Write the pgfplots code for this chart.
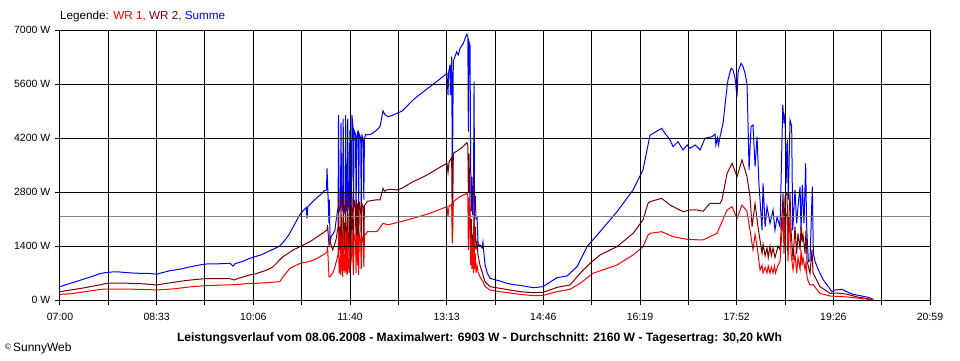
\documentclass[border=0pt]{standalone}
\usepackage{pgfplots}
\pgfplotsset{compat=1.18}
\usepackage{pgfplotstable}
\usepackage{fontspec}
\setmainfont{Liberation Sans}
\definecolor{wrone}{RGB}{255,0,0}
\definecolor{wrtwo}{RGB}{128,0,0}
\definecolor{summe}{RGB}{0,0,255}
\definecolor{avgline}{RGB}{128,128,128}

% minutes after 07:00, watts
\pgfplotstableread{
m w
0 345
5 390
10 430
18 500
25 560
32 620
38 680
43 708
50 726
56 730
62 715
70 700
78 690
86 690
93.5 666
96 690
106 760
116 800
123.4 848
130 885
139.8 933
146 935
154 940
164 951
167 880
169 945
176 1000
183 1080
188 1123
194 1170
200 1250
206 1320
212 1400
216 1520
221 1700
226 1950
231 2200
234 2300
237.5 2400
238.2 2117
239 2420
244 2560
248 2660
251 2723
255 2834
257 2850
257.5 3415
258.3 2830
259.4 1997
259.8 2600
260.4 1480
261.5 1650
263 1700
265 1800
266.5 2100
267.5 2300
268.2 2400
268.6 4797
269.2 2300
270.5 2400
271.0 4600
271.6 2500
272.6 2300
273.1 4700
273.7 2200
275.0 2400
275.5 4797
276.1 2300
277.0 2600
277.5 4700
278.1 2500
279.0 2300
279.5 4400
280.1 2400
281.0 2600
281.5 4797
282.5 4500
283.0 2300
283.6 4400
285.0 4300
285.5 2200
286.1 4200
287.5 4400
288.0 2400
288.6 4300
290.0 4200
290.5 2300
291.1 4300
292.5 4100
293.0 2600
293.6 4200
295.0 4300
296.4 4280
300 4300
305.7 4408
308.6 4494
311.5 4909
313.5 4800
316.3 4753
320 4780
325 4841
330 4900
340.4 5186
348 5350
356.8 5531
365 5700
373.2 5878
374.2 5316
374.8 5900
376.1 6094
376.6 5316
377.7 6309
378.4 3000
379.3 6200
380.9 6309
382.5 6438
384.1 6352
385.8 6525
389 6655
391.3 6828
392.3 6889
393.3 6828
393.8 4365
394.4 6698
395.4 6600
396.0 3500
396.6 2300
397.3 3200
398.0 2200
398.8 3000
399.3 5661
399.8 2400
400.5 2700
401.2 2100
402.2 2126
403.1 1512
404.0 1400
405 1426
407 1350
407.9 1500
408.5 1300
409.9 908
412 700
414.7 563
420 520
424.3 493
430 440
436.9 400
443.6 380
456.2 320
465.8 345
479.3 579
488.9 622
498.6 864
508.2 1383
520.8 1771
537.2 2290
552.6 2852
562.2 3371
566.1 3890
569 4278
572 4321
580.2 4451
583.4 4321
588.3 4149
591.2 3975
596 4105
600.8 3890
604.7 4020
607.6 3933
612.4 4020
617.2 3890
622 4193
628.8 4235
631.7 4300
632.5 4020
634 4200
635 4020
636.5 4235
639.4 4581
643.3 5531
644.2 5705
647.1 6008
649 5964
651 5748
652.9 5272
653.9 5920
656.8 6137
658.7 6050
660.6 5880
662.5 5618
663.5 4581
664.5 3371
666.4 4494
668.3 4538
670.3 3457
672.2 4235
674 3025
677 1815
678 3025
680 1900
681.8 2420
684.7 1988
687.6 2334
689.5 1815
691.5 2150
694.4 1900
697 5056
698.2 4581
699.2 4841
700.2 3025
701.4 4149
702.3 2600
704 4668
705.6 4500
706.6 1815
708.8 2852
710.4 1988
712 2500
713.7 2938
714.6 1800
715.9 2982
717.5 1988
719.1 3544
720 1900
721.7 994
723.3 1037
725.5 2938
726.5 1200
728.2 994
731.4 778
736.2 519
741 345
744.3 216
747.4 259
753.9 277
758.7 216
763.5 156
771.5 112
779.5 69
784.3 18
}\summetable

\pgfplotstableread{
m w
0 216
10 260
20 300
30 350
40 400
43 423
50 440
60 440
70 430
80 420
93.5 389
100 420
110 460
120 500
130 530
139.8 553
150 553
164 553
168 520
172 560
183 650
188 674
199.6 778
205 850
215 1123
225 1300
231.5 1383
241 1512
250.7 1685
257.5 1815
258 1950
259.4 1426
260.4 1500
261.5 1420
263 1300
265 1450
266.5 1600
267.5 1800
268.2 1900
268.6 2700
269.2 1300
270.0 1900
270.5 1200
271.0 2600
271.6 1500
272.6 1100
273.1 2750
273.7 1300
274.4 2000
275.0 1200
275.5 2700
276.1 1400
277.0 1100
277.5 2700
278.1 1500
279.0 1200
279.5 2500
280.1 1300
281.0 1800
281.5 2766
282.5 1600
283.0 1100
283.6 2600
285.0 2400
285.5 1200
286.1 2600
287.0 1500
287.5 2500
288.0 1150
288.6 2550
290.0 2300
290.5 1300
291.1 2500
292.5 2400
293.0 1400
293.6 2450
295.0 2500
296.4 2560
305.7 2600
308.6 2593
311.5 2895
313 2820
316.3 2870
320 2870
325 2852
330 2900
340.4 3068
348 3160
356.8 3285
365 3420
373.2 3544
374.2 3300
375.2 3580
376.1 3620
377.7 3700
378.4 1478
379.3 3804
384 3880
388.7 3975
391.3 4050
392.5 4079
393.3 4000
393.8 2800
394.4 3800
395.4 2400
396.0 1300
396.6 2100
397.3 1100
398.0 1700
398.8 1000
399.3 3285
399.8 1500
400.5 1900
401.2 1300
402.2 1500
403.1 1167
405 900
407 734
408.5 600
409.9 475
414.7 345
424.3 303
443.6 216
456.2 190
465.8 200
479.3 328
491.8 389
501.5 692
511.1 951
520.8 1167
537.2 1383
552.6 1729
562.2 2074
567.1 2507
569 2550
580.2 2636
588.3 2463
600.8 2290
607.6 2334
614.3 2334
620.1 2300
626.9 2507
636.5 2507
638.4 2600
643.3 3285
648.1 3544
652.9 3198
657.7 3630
662.5 3200
665.4 2679
667.4 1900
670.3 2500
673.1 1900
677 1210
678 1450
680 1150
681.8 1350
683 1100
684.7 1400
686 1150
687.6 1350
689.5 1100
691.5 1300
692.4 1400
694.4 1300
697.3 2766
698.2 1600
699.2 2700
701.1 2766
702 1600
704 2766
705 1800
706.9 1037
708.8 1900
710.4 1200
711.7 1729
713.7 1300
714.6 1900
715.6 1500
716.5 1700
718.5 1200
719.4 1800
720.4 1000
721.4 900
723.3 692
725.2 1300
726.2 700
730 500
732.9 345
742.6 173
750 180
759 150
768.6 80
784 10
}\wrtwotable

\pgfplotstableread{
m w
0 147
10 160
20 200
30 240
43 285
60 285
80 275
93.5 259
110 290
125 340
139.8 372
160 390
170 400
183 430
188 432
200 450
212 475
215 600
221.8 822
231.5 951
241 1000
247.9 1080
255.6 1200
257.5 1253
258 1400
259.4 605
260.4 600
261.5 650
263 700
265 850
266.5 1000
267.5 1100
268.2 1200
268.6 1800
269.2 700
270.0 1100
270.5 650
271.0 1700
271.6 900
272.6 600
273.1 1815
273.7 750
274.4 1200
275.0 700
275.5 1750
276.1 800
277.0 650
277.5 1800
278.1 900
279.0 700
279.5 1600
280.1 800
281.0 1100
281.5 1800
282.5 1000
283.0 650
283.6 1700
285.0 1500
285.5 700
286.1 1700
287.0 900
287.5 1650
288.0 650
288.6 1700
290.0 1500
290.5 800
291.1 1650
292.5 1500
293.0 850
293.6 1700
295.0 1700
296.4 1771
305.7 1771
311.5 1988
316.3 1950
325 2005
340.4 2117
356.8 2247
373.2 2420
374.2 2150
375.2 2440
377.7 2480
378.4 1469
379.3 2550
385.8 2680
392.5 2766
393.3 2700
393.8 1300
394.4 2650
395.4 1800
396 900
396.6 1600
397.3 800
398 1400
398.8 700
399.3 2100
399.8 800
400.5 1200
401.2 700
402.2 900
403.1 734
405 600
407.9 475
409.9 350
414.7 259
424.3 216
443.6 147
456.2 112
465.8 120
479.3 216
491.8 276
501.5 432
514 692
537.2 908
552.6 1167
562.2 1383
567.1 1685
569 1729
580.2 1771
591.2 1642
604.7 1573
620.1 1556
633.6 1729
643.3 2334
648.1 2420
652.9 2117
657.7 2463
662.5 2300
665.4 1815
668.3 1297
670.3 1700
672.2 1400
675.1 778
677 900
678 700
680 850
681.8 700
683 880
684.7 700
686 850
687.6 700
689 880
690 700
692.4 900
694.4 1000
697.3 2247
698.2 1200
699.2 2100
701.1 2247
702 1000
704 2200
705 1200
706.9 778
708.8 1200
710.4 700
711.7 1100
713.7 800
714.6 1300
715.6 900
716.5 1100
718.5 778
719.4 1000
720.4 600
721.4 500
723.3 389
726.2 400
732.9 173
742.6 104
759 80
784 5
}\wronetable

\begin{document}
\begin{tikzpicture}[x=1bp,y=1bp]
\useasboundingbox (-60,-60) rectangle (900,300);
\begin{axis}[
  at={(0,0)}, anchor=south west,
  scale only axis, width=870bp, height=270bp,
  xmin=0, xmax=839, ymin=0, ymax=7000,
  xtick={0,46.61,93.22,139.83,186.44,233.06,279.67,326.28,372.89,419.5,466.11,512.72,559.33,605.94,652.56,699.17,745.78,792.39,839},
  xticklabels={07:00,,08:33,,10:06,,11:40,,13:13,,14:46,,16:19,,17:52,,19:26,,20:59},
  ytick={0,1400,2800,4200,5600,7000},
  yticklabels={0 W,1400 W,2800 W,4200 W,5600 W,7000 W},
  tick pos=left,
  tick align=outside, major tick length=5bp,
  tick style={black, line width=1bp},
  grid=major, major grid style={black, line width=1bp},
  axis line style={black, line width=1bp},
  axis on top,
  ticklabel style={font=\fontsize{10.5bp}{12bp}\selectfont},
  xticklabel style={inner sep=1.5bp, yshift=-6bp},
  yticklabel style={inner sep=1.5bp, xshift=-3bp},
]
\addplot[summe, line width=1bp] table[x=m,y=w] {\summetable};
\addplot[wrtwo, line width=1bp] table[x=m,y=w] {\wrtwotable};
\addplot[wrone, line width=1bp] table[x=m,y=w] {\wronetable};
\addplot[avgline, line width=1bp] coordinates {(0,2160) (839,2160)};
\end{axis}
\node[anchor=west, inner sep=0, font=\fontsize{11.7bp}{13bp}\selectfont] at (0,284)
  {Legende: \textcolor{wrone}{WR 1,} \textcolor{wrtwo}{WR 2,} \textcolor{summe}{Summe}};
\node[inner sep=0, font=\bfseries\fontsize{12.1bp}{14bp}\selectfont] at (419.5,-38)
  {Leistungsverlauf vom 08.06.2008 - Maximalwert: 6903 W - Durchschnitt: 2160 W - Tagesertrag: 30,20 kWh};
\node[anchor=west, inner sep=0, font=\fontsize{12bp}{13bp}\selectfont] at (-55,-48)
  {\raisebox{2bp}{\fontsize{8bp}{8bp}\selectfont\textcopyright}\,SunnyWeb};
\end{tikzpicture}
\end{document}
